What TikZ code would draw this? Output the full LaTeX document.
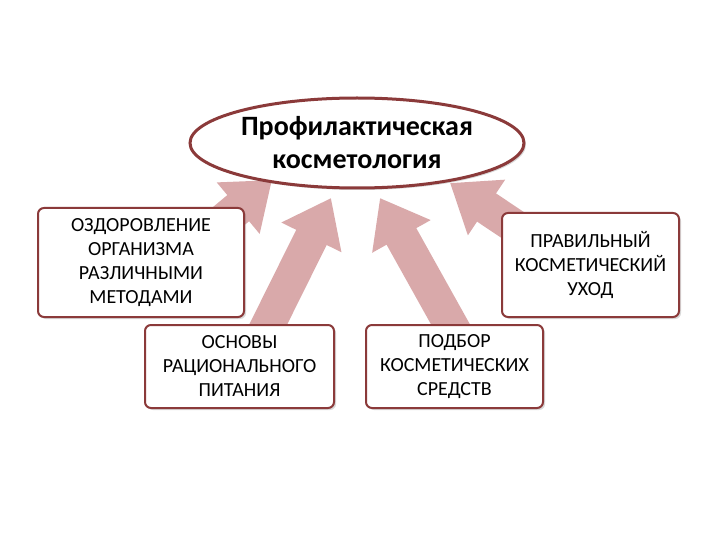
\documentclass[tikz,border=0pt]{standalone}
\usepackage{fontspec}
\setmainfont{Carlito}
\usetikzlibrary{arrows.meta,shadows,shapes.geometric}
\definecolor{arr}{HTML}{D9A9AA}
\definecolor{brd}{HTML}{8B3A3A}
\tikzset{
  bigarrow/.style={arr, line width=34pt, -{Triangle[length=44pt,width=64pt]}},
  box/.style={draw=brd, line width=2pt, rounded corners=6pt, fill=white, align=center, font=\fontsize{20}{24}\selectfont, drop shadow={shadow xshift=2pt,shadow yshift=-2pt,opacity=0.3}},
}
\begin{document}
\begin{tikzpicture}[x=1pt,y=-1pt]
\useasboundingbox (0,0) rectangle (720,540);
\coordinate (t1) at (200,240); \coordinate (h1) at (272,180);
\coordinate (t3) at (258,345); \coordinate (h3) at (331,198);
\coordinate (t4) at (462,345); \coordinate (h4) at (380,198);
\coordinate (t2) at (535,240); \coordinate (h2) at (450,183);
\draw[bigarrow] (t1) -- (h1);
\draw[bigarrow] (t3) -- (h3);
\draw[bigarrow] (t4) -- (h4);
\draw[bigarrow] (t2) -- (h2);
\node[draw=brd, line width=3pt, ellipse, inner sep=0pt, fill=white, minimum width=334pt, minimum height=90pt, align=center, font=\bfseries\fontsize{28}{33}\selectfont, drop shadow={shadow xshift=2pt,shadow yshift=-2pt,opacity=0.3}] (e) at (357,143) {Профилактическая\\косметология};
\node[box, minimum width=206pt, minimum height=109pt] (b1) at (141,262.5) {ОЗДОРОВЛЕНИЕ\\ОРГАНИЗМА\\РАЗЛИЧНЫМИ\\МЕТОДАМИ};
\node[box, minimum width=177pt, minimum height=104pt] (b2) at (590.5,265) {ПРАВИЛЬНЫЙ\\КОСМЕТИЧЕСКИЙ\\УХОД};
\node[box, minimum width=189pt, minimum height=83pt] (b3) at (239.5,366.5) {ОСНОВЫ\\РАЦИОНАЛЬНОГО\\ПИТАНИЯ};
\node[box, minimum width=177pt, minimum height=83pt] (b4) at (454.5,366.5) {ПОДБОР\\КОСМЕТИЧЕСКИХ\\СРЕДСТВ};
\end{tikzpicture}
\end{document}
